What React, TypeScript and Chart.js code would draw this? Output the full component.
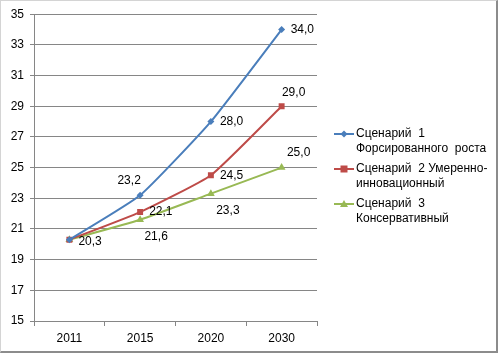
import React, { useEffect, useRef } from "react";
import { Chart, registerables } from "chart.js";

Chart.register(...registerables);

const categories = ["2011", "2015", "2020", "2030"];
const scenario1 = [20.3, 23.2, 28.0, 34.0];
const scenario2 = [20.3, 22.1, 24.5, 29.0];
const scenario3 = [20.3, 21.6, 23.3, 25.0];
const seriesNames = [
  ["Сценарий  1", "Форсированного  роста"],
  ["Сценарий  2 Умеренно-", "инновационный"],
  ["Сценарий  3", "Консервативный"],
];
const yMin = 15;
const yMax = 35;
const yStep = 2;

const FONT = "'Liberation Sans', Arial, sans-serif";
const colors = ["#4A7EBB", "#BE4B48", "#98B954"];

// label offsets (dx, dy) relative to point, and alignment
const labelPlacement: [number, number, CanvasTextAlign][][] = [
  [[9, 2, "left"], [-11, -15, "center"], [9, 0, "left"], [9, 0, "left"]],
  [[9, 2, "left"], [9, 0, "left"], [9, 0, "left"], [12, -14, "center"]],
  [[9, 2, "left"], [16, 17, "center"], [17, 17, "center"], [17, -15, "center"]],
];

function drawMarker(ctx: CanvasRenderingContext2D, style: string, x: number, y: number, color: string) {
  ctx.save();
  ctx.fillStyle = color;
  ctx.beginPath();
  if (style === "rectRot") {
    const r = 3.5;
    ctx.moveTo(x, y - r);
    ctx.lineTo(x + r, y);
    ctx.lineTo(x, y + r);
    ctx.lineTo(x - r, y);
  } else if (style === "rect") {
    const r = 3.5;
    ctx.rect(x - r, y - r, 2 * r, 2 * r);
  } else {
    const r = 4;
    ctx.moveTo(x, y - r);
    ctx.lineTo(x + r, y + r * 0.75);
    ctx.lineTo(x - r, y + r * 0.75);
  }
  ctx.closePath();
  ctx.fill();
  ctx.restore();
}

const pointStyles = ["rectRot", "rect", "triangle"];

const dataLabelsPlugin = {
  id: "dataLabelsCustom",
  afterDatasetsDraw(chart: any) {
    const ctx = chart.ctx as CanvasRenderingContext2D;
    ctx.save();
    ctx.font = `12px ${FONT}`;
    ctx.fillStyle = "#000000";
    ctx.textBaseline = "middle";
    const drawn = new Set<string>();
    chart.data.datasets.forEach((ds: any, di: number) => {
      const meta = chart.getDatasetMeta(di);
      meta.data.forEach((el: any, i: number) => {
        const [dx, dy, align] = labelPlacement[di][i];
        ctx.textAlign = align;
        const txt = Number(ds.data[i]).toFixed(1).replace(".", ",");
        const x = el.x + dx;
        const y = el.y + dy;
        const key = `${txt}@${Math.round(x)},${Math.round(y)}`;
        if (drawn.has(key)) return;
        drawn.add(key);
        ctx.fillText(txt, x, y);
      });
    });
    ctx.restore();
  },
};

const legendPlugin = {
  id: "legendCustom",
  afterDraw(chart: any) {
    const ctx = chart.ctx as CanvasRenderingContext2D;
    ctx.save();
    ctx.font = `12px ${FONT}`;
    ctx.textBaseline = "middle";
    ctx.textAlign = "left";
    const startY = 133;
    const rowGap = 35;
    const lineGap = 15;
    seriesNames.forEach((lines, i) => {
      const y = startY + i * rowGap;
      ctx.strokeStyle = colors[i];
      ctx.lineWidth = 2;
      ctx.beginPath();
      ctx.moveTo(333, y);
      ctx.lineTo(353, y);
      ctx.stroke();
      drawMarker(ctx, pointStyles[i], 343, y, colors[i]);
      ctx.fillStyle = "#000000";
      lines.forEach((ln, j) => {
        ctx.fillText(ln, 355, y + j * lineGap);
      });
    });
    ctx.restore();
  },
};

export default function App() {
  const canvasRef = useRef<HTMLCanvasElement | null>(null);
  useEffect(() => {
    if (!canvasRef.current) return;
    const mk = (data: number[], i: number, radius: number) => ({
      label: seriesNames[i].join(" "),
      data,
      borderColor: colors[i],
      backgroundColor: colors[i],
      borderWidth: 2,
      pointStyle: pointStyles[i] as any,
      pointRadius: radius,
      pointBorderWidth: 0,
      tension: 0.15,
      fill: false,
    });
    const chart = new Chart(canvasRef.current, {
      type: "line",
      data: {
        labels: categories,
        datasets: [mk(scenario1, 0, 3.5), mk(scenario2, 1, 4.2), mk(scenario3, 2, 4.5)],
      },
      options: {
        animation: false,
        responsive: false,
        maintainAspectRatio: false,
        layout: { padding: { left: 0, right: 179, top: 12, bottom: 0 } },
        plugins: {
          legend: { display: false },
          tooltip: { enabled: false },
          title: { display: false },
        },
        scales: {
          x: {
            offset: true,
            grid: {
              display: true,
              drawOnChartArea: false,
              drawTicks: true,
              tickLength: 5,
              color: "#868686",
              offset: true,
            },
            border: { display: true, color: "#868686", width: 1 },
            ticks: { color: "#000000", font: { family: FONT, size: 12 }, padding: 5 },
            afterFit: (s: any) => {
              s.height = 30;
            },
          },
          y: {
            min: yMin,
            max: yMax,
            ticks: {
              stepSize: yStep,
              color: "#000000",
              font: { family: FONT, size: 12 },
              padding: 6,
            },
            grid: { color: "#868686", drawTicks: true, tickLength: 4 },
            border: { display: true, color: "#868686", width: 1 },
            afterFit: (s: any) => {
              s.width = 33;
            },
          },
        },
      },
      plugins: [dataLabelsPlugin, legendPlugin],
    });
    return () => chart.destroy();
  }, []);
  return (
    <div
      style={{
        position: "absolute",
        left: 0,
        top: 0,
        width: 498,
        height: 353,
        boxSizing: "border-box",
        borderTop: "1px solid #d4d4d4",
        borderLeft: "1px solid #d4d4d4",
        borderRight: "2px solid #8c8c8c",
        borderBottom: "2px solid #8c8c8c",
        background: "#ffffff",
        overflow: "hidden",
      }}
    >
      <canvas
        ref={canvasRef}
        width={495}
        height={350}
        style={{ position: "absolute", left: 0, top: 0, width: 495, height: 350 }}
      />
    </div>
  );
}
